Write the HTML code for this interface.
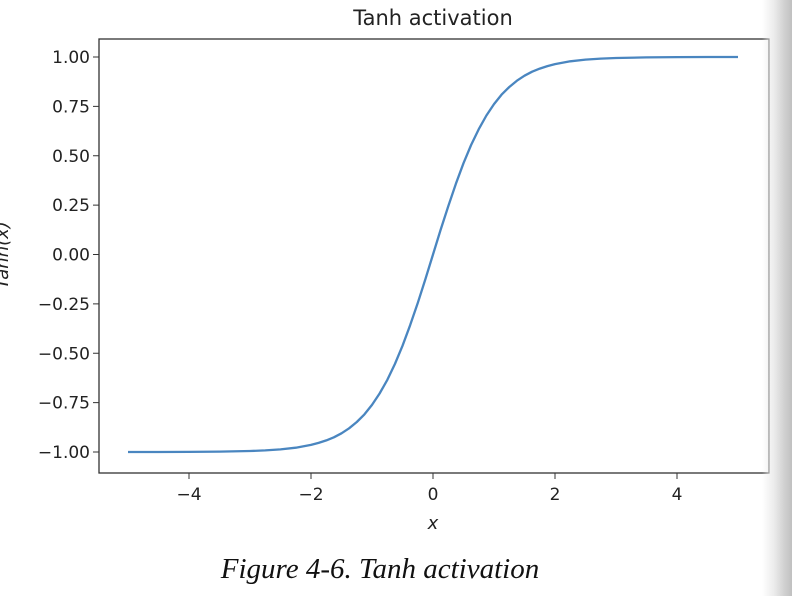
<!DOCTYPE html>
<html><head><meta charset="utf-8"><style>
body{margin:0;width:792px;height:596px;overflow:hidden;background:#fff;position:relative;font-family:"DejaVu Sans","Liberation Sans",sans-serif}
#shade{position:absolute;left:762px;top:0;width:30px;height:596px;background:linear-gradient(to right,rgba(255,255,255,0),#ececec 40%,#d0d0d0 75%,#c0c0c0);}
#cap{position:absolute;left:0;width:760px;top:553px;text-align:center;font-family:"Liberation Serif",serif;font-style:italic;font-size:29px;color:#111}
</style></head><body>
<svg id="chart" width="792" height="596" style="position:absolute;left:0;top:0">
<g id="axes"></g>
</svg>
<div id="shade"></div>
<div id="cap">Figure 4-6. Tanh activation</div>
<script>
const xValues=[-5,-4.5,-4,-3.5,-3,-2.75,-2.5,-2.25,-2,-1.875,-1.75,-1.625,-1.5,-1.375,-1.25,-1.125,-1,-0.875,-0.75,-0.625,-0.5,-0.375,-0.25,-0.125,0,0.125,0.25,0.375,0.5,0.625,0.75,0.875,1,1.125,1.25,1.375,1.5,1.625,1.75,1.875,2,2.25,2.5,2.75,3,3.5,4,4.5,5];
const yValues=[-0.9999,-0.9998,-0.9993,-0.9982,-0.9951,-0.9918,-0.9866,-0.9780,-0.9640,-0.9541,-0.9414,-0.9254,-0.9051,-0.8801,-0.8483,-0.8096,-0.7616,-0.7039,-0.6351,-0.5546,-0.4621,-0.3584,-0.2449,-0.1244,0,0.1244,0.2449,0.3584,0.4621,0.5546,0.6351,0.7039,0.7616,0.8096,0.8483,0.8801,0.9051,0.9254,0.9414,0.9541,0.9640,0.9780,0.9866,0.9918,0.9951,0.9982,0.9993,0.9998,0.9999];
const xTicks=[-4,-2,0,2,4];
const yTicks=[-1,-0.75,-0.5,-0.25,0,0.25,0.5,0.75,1];
const L=99,R=769,T=39,B=473;
const sx=v=>433+v*61;
const sy=v=>254.5-v*197.5;
const NS='http://www.w3.org/2000/svg';
const g=document.getElementById('axes');
function mk(t,a){const e=document.createElementNS(NS,t);for(const k in a)e.setAttribute(k,a[k]);g.appendChild(e);return e;}
let e=mk('rect',{x:L,y:T,width:R-L,height:B-T,fill:'none',stroke:'#333','stroke-width':1.3});


xTicks.forEach(v=>{
 let t=mk('line',{x1:sx(v),x2:sx(v),y1:B,y2:B+6,stroke:'#333'});
 
 
 let l=mk('text',{x:sx(v),y:B+27,'text-anchor':'middle','font-size':17,fill:'#222'});
 l.textContent=(v<0?'\u2212'+(-v):String(v));
 
 
});
yTicks.forEach(v=>{
 let t=mk('line',{x1:L-6,x2:L,y1:sy(v),y2:sy(v),stroke:'#333'});
 
 
 let l=mk('text',{x:L-9,y:sy(v)+6,'text-anchor':'end','font-size':17,fill:'#222'});
 l.textContent=(v<0?'\u2212':'')+Math.abs(v).toFixed(2);
 
 
});
let d=xValues.map((x,i)=>(i?'L':'M')+sx(x).toFixed(1)+' '+sy(yValues[i]).toFixed(1)).join(' ');
let p=mk('path',{d:d,fill:'none',stroke:'#4a86c0','stroke-width':2.3,'stroke-linejoin':'round'});


let ti=mk('text',{x:433,y:25,'text-anchor':'middle','font-size':21,fill:'#222'});
ti.textContent='Tanh activation';


let xl=mk('text',{x:433,y:529,'text-anchor':'middle','font-size':18,'font-style':'italic',fill:'#222'});
xl.textContent='x';


let yl=mk('text',{x:0,y:0,'text-anchor':'middle','font-size':18,'font-style':'italic',fill:'#222',transform:'translate(8,255) rotate(-90)'});
yl.textContent='Tanh(x)';


</script>
</body></html>
